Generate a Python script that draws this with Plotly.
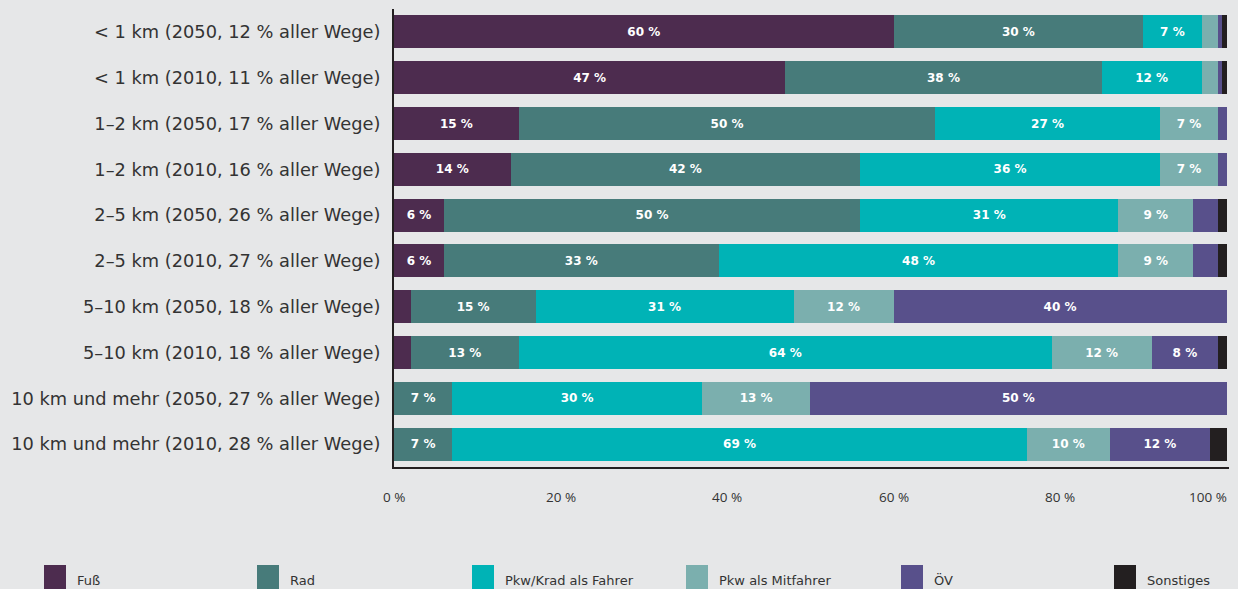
import plotly.graph_objects as go

# Distance bands (top to bottom)
categories = [
    "< 1 km (2050, 12 % aller Wege)",
    "< 1 km (2010, 11 % aller Wege)",
    "1–2 km (2050, 17 % aller Wege)",
    "1–2 km (2010, 16 % aller Wege)",
    "2–5 km (2050, 26 % aller Wege)",
    "2–5 km (2010, 27 % aller Wege)",
    "5–10 km (2050, 18 % aller Wege)",
    "5–10 km (2010, 18 % aller Wege)",
    "10 km und mehr (2050, 27 % aller Wege)",
    "10 km und mehr (2010, 28 % aller Wege)",
]

# Modal split shares in percent per distance band
fuss       = [60, 47, 15, 14, 6, 6, 2, 2, 0, 0]
rad        = [30, 38, 50, 42, 50, 33, 15, 13, 7, 7]
pkw_fahrer = [7, 12, 27, 36, 31, 48, 31, 64, 30, 69]
pkw_mitf   = [2, 2, 7, 7, 9, 9, 12, 12, 13, 10]
oev        = [0.5, 0.5, 1, 1, 3, 3, 40, 8, 50, 12]
sonstiges  = [0.5, 0.5, 0, 0, 1, 1, 0, 1, 0, 2]

series_names = ["Fuß", "Rad", "Pkw/Krad als Fahrer", "Pkw als Mitfahrer", "ÖV", "Sonstiges"]
series_values = [fuss, rad, pkw_fahrer, pkw_mitf, oev, sonstiges]
series_colors = ["#4d2c4f", "#477b7a", "#00b3b6", "#7bafae", "#58508b", "#231f20"]

x_ticks = [0, 20, 40, 60, 80, 100]
x_tick_labels = ["0 %", "20 %", "40 %", "60 %", "80 %", "100 %"]

BG = "#e6e7e8"
TEXT = "#333333"
W, H = 1238, 589
ML, MR, MT, MB = 394, 9, 9, 122
pw, ph = W - ML - MR, H - MT - MB
X_MAX = 100.3


def px_x(px):
    return (px - ML) / pw


def px_y(py):
    return (MT + ph - py) / ph


fig = go.Figure()
for name, vals, color in zip(series_names, series_values, series_colors):
    labels = [f"{v:g} %" if v >= 5 else "" for v in vals]
    fig.add_trace(go.Bar(
        y=categories, x=vals, name=name, orientation="h",
        marker=dict(color=color, line=dict(width=0)),
        text=labels, textposition="inside", insidetextanchor="middle",
        textangle=0, constraintext="none",
        textfont=dict(family="DejaVu Sans", size=12, color="white", weight="bold"),
        hoverinfo="skip",
    ))

# Percent scale labels under the axis; the last one is right-aligned to the axis end
for val, lab in zip(x_ticks, x_tick_labels):
    last = val == x_ticks[-1]
    fig.add_annotation(xref="x", yref="paper", x=X_MAX if last else val,
                       y=px_y(497), text=lab, showarrow=False,
                       xanchor="right" if last else "center", yanchor="middle",
                       font=dict(family="Open Sans", size=13.5, color=TEXT))

# Legend drawn as large swatches along the bottom edge
leg_x = [44, 257, 472, 686, 901, 1114]
for px, name, color in zip(leg_x, series_names, series_colors):
    fig.add_shape(type="rect", xref="paper", yref="paper",
                  x0=px_x(px), x1=px_x(px + 22),
                  y0=px_y(600), y1=px_y(565),
                  fillcolor=color, line=dict(width=0), layer="above")
    fig.add_annotation(xref="paper", yref="paper", x=px_x(px + 31),
                       y=px_y(580), text=name, showarrow=False,
                       xanchor="left", yanchor="middle",
                       font=dict(family="DejaVu Sans", size=13, color=TEXT))

fig.update_layout(
    barmode="stack", bargap=0.28,
    width=W, height=H,
    margin=dict(l=ML, r=MR, t=MT, b=MB, pad=0, autoexpand=False),
    paper_bgcolor=BG, plot_bgcolor=BG,
    showlegend=False,
    xaxis=dict(range=[0, X_MAX], showticklabels=False, automargin=False,
               showgrid=False, zeroline=False, showline=True,
               linecolor="#231f20", linewidth=2, ticks="",
               fixedrange=True),
    yaxis=dict(autorange="reversed", showgrid=False, zeroline=False,
               showline=True, linecolor="#231f20", linewidth=2, ticks="",
               automargin=False, ticklabelstandoff=8,
               tickfont=dict(family="DejaVu Sans", size=17.8, color=TEXT),
               fixedrange=True),
)

fig.write_html("out.html")
